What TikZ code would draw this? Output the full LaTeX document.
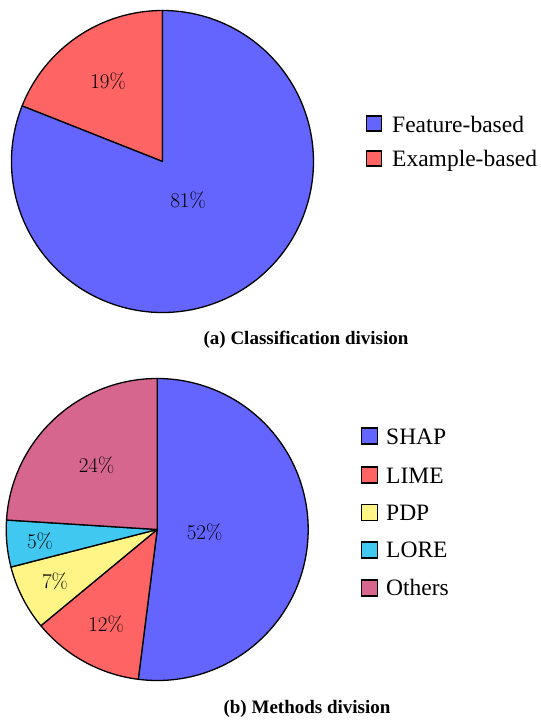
\documentclass[tikz,border=0pt]{standalone}
\usepackage{fontspec}
\newfontfamily\legfont{Liberation Serif}
\definecolor{cblue}{RGB}{100,100,255}
\definecolor{cred}{RGB}{255,100,100}
\definecolor{cyellow}{RGB}{255,245,135}
\definecolor{ccyan}{RGB}{64,200,240}
\definecolor{cpink}{RGB}{214,102,142}
\tikzset{
  slice/.style={draw=black,line width=1.3pt,line join=round},
  pct/.style={font=\fontsize{21}{22}\selectfont,inner sep=0pt},
  legbox/.style={draw=black,line width=1.3pt,minimum size=15pt,inner sep=0pt},
  legtext/.style={font=\legfont\fontsize{23.5}{24}\selectfont,anchor=base west,inner sep=0pt},
  captext/.style={font=\legfont\bfseries\fontsize{19}{20}\selectfont,anchor=base,inner sep=0pt}
}
\begin{document}
\begin{tikzpicture}[x=1pt,y=1pt]
\useasboundingbox (0,0) rectangle (541,721);
% top pie
\coordinate (T) at (162.5,559.5);
\filldraw[slice,fill=cred] (T) -- ++(90:151) arc (90:158.4:151) -- cycle;
\filldraw[slice,fill=cblue] (T) -- ++(158.4:151) arc (158.4:450:151) -- cycle;
\node[pct] (t19) at (108,640) {19\%};
\node[pct] (t81) at (188,521) {81\%};
% top legend
\node[legbox,fill=cblue] (lf) at (374,597.5) {};
\node[legtext] (lft) at (392,588.5) {Feature-based};
\node[legbox,fill=cred] (le) at (374,562.5) {};
\node[legtext] (let) at (392,554) {Example-based};
\node[captext] (capa) at (306,376) {(a) Classification division};
% bottom pie
\coordinate (B) at (157.2,191.5);
\filldraw[slice,fill=cblue] (B) -- ++(-97.2:151) arc (-97.2:90:151) -- cycle;
\filldraw[slice,fill=cred] (B) -- ++(-140.4:151) arc (-140.4:-97.2:151) -- cycle;
\filldraw[slice,fill=cyellow] (B) -- ++(-165.6:151) arc (-165.6:-140.4:151) -- cycle;
\filldraw[slice,fill=ccyan] (B) -- ++(-183.6:151) arc (-183.6:-165.6:151) -- cycle;
\filldraw[slice,fill=cpink] (B) -- ++(-270:151) arc (-270:-183.6:151) -- cycle;
\node[pct] (b24) at (96.5,256) {24\%};
\node[pct] (b5) at (40,180) {5\%};
\node[pct] (b7) at (55,140) {7\%};
\node[pct] (b12) at (106,97) {12\%};
\node[pct] (b52) at (204.5,189) {52\%};
% bottom legend
\node[legbox,fill=cblue,minimum size=16pt] (ls) at (369.5,285) {};
\node[legtext] (lst) at (386,276.5) {SHAP};
\node[legbox,fill=cred,minimum size=16pt] (ll) at (369.5,246) {};
\node[legtext] (llt) at (386,237.5) {LIME};
\node[legbox,fill=cyellow,minimum size=16pt] (lp) at (369.5,208.5) {};
\node[legtext] (lpt) at (386,200.5) {PDP};
\node[legbox,fill=ccyan,minimum size=16pt] (lo) at (369.5,171) {};
\node[legtext] (lot) at (386,163) {LORE};
\node[legbox,fill=cpink,minimum size=16pt] (lx) at (369.5,133) {};
\node[legtext] (lxt) at (386,125) {Others};
\node[captext] (capb) at (307,8) {(b) Methods division};
\end{tikzpicture}
\end{document}
